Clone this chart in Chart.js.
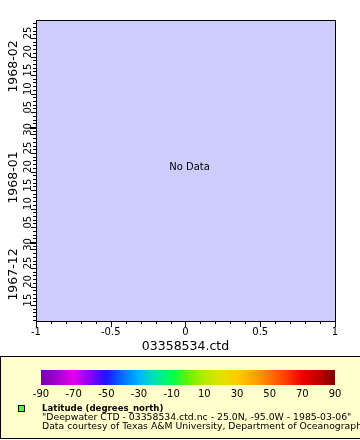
<!DOCTYPE html>
<html>
<head>
<meta charset="utf-8">
<script src="https://cdn.jsdelivr.net/npm/chart.js@4.4.1/dist/chart.umd.min.js"></script>
<style>
  html, body { margin: 0; padding: 0; width: 360px; height: 440px; overflow: hidden; background: #fff; font-family: "DejaVu Sans", sans-serif; }
  #main { position: absolute; left: 0; top: 0; }
  #key { position: absolute; left: 0; top: 356px; width: 400px; height: 81px; background: #ffffcc; border: 1px solid #000; }
  #bar { position: absolute; left: 0; top: 366px; }
  .swatch { position: absolute; left: 18px; top: 405px; width: 5px; height: 5px; background: #44ff44; border: 1px solid #000; }
  .line { position: absolute; left: 42px; white-space: nowrap; font-size: 9.3px; line-height: 10px; color: #000; }
</style>
</head>
<body>
<canvas id="main" width="360" height="356"></canvas>
<div id="key"></div>
<canvas id="bar" width="360" height="38"></canvas>
<div class="swatch"></div>
<div class="line" id="l1" style="top:403px;font-weight:bold;font-size:8.6px"></div>
<div class="line" id="l2" style="top:412px"></div>
<div class="line" id="l3" style="top:421px"></div>
<script>
// --- data ---
const fileName = '03358534.ctd';
const xRange = [-1, 1];
const xTicks = [-1, -0.5, 0, 0.5, 1];
const xMinorStep = 0.1;

// y axis is time, in days counted from 1967-12-01
const months = ['1967-12', '1968-01', '1968-02'];
const monthStart = [0, 31, 62];
const monthDays = [31, 31, 29];
const yRange = [9.7, 90.85];
const dayLabels = [5, 10, 15, 20, 25, 30];

const points = []; // no data in this file

const barTicks = [-90, -70, -50, -30, -10, 10, 30, 50, 70, 90];
const barStops = [-90, -80, -70, -60, -50, -40, -30, -20, -10, 0, 10, 20, 30, 40, 50, 60, 70, 80, 90];
const barColors = ['#7800a8', '#a800d0', '#e400ec', '#8c00f4', '#1e14ff', '#0070ff', '#00b4ff', '#00e4b0', '#00ff50',
                   '#64f400', '#b4ec00', '#e4e000', '#ffcc00', '#ffa800', '#ff7400', '#ff3c00', '#ee0000', '#c00000', '#800000'];

const legendTitle = 'Latitude (degrees_north)';
const legendDesc = '"Deepwater CTD - 03358534.ctd.nc - 25.0N, -95.0W - 1985-03-06"';
const legendCredit = 'Data courtesy of Texas A&M University, Department of Oceanography';

const FONT = '"DejaVu Sans", sans-serif';

// day ticks for the time axis
const dayTicks = [];
for (let d = Math.ceil(yRange[0]); d <= yRange[1]; d++) dayTicks.push(d);

function monthOf(v) {
  let m = 0;
  for (let i = 0; i < monthStart.length; i++) if (v >= monthStart[i]) m = i;
  return m;
}

const frame = {
  id: 'frame',
  beforeDraw(chart) {
    const {ctx, chartArea: a} = chart;
    ctx.save();
    ctx.fillStyle = '#ccccff';
    ctx.fillRect(a.left, a.top, a.right - a.left, a.bottom - a.top);
    ctx.restore();
  },
  afterDraw(chart) {
    const {ctx, chartArea: a, scales: {x, y}} = chart;
    ctx.save();
    ctx.strokeStyle = '#000';
    ctx.lineWidth = 1;
    ctx.strokeRect(a.left + 0.5, a.top + 0.5, a.right - a.left, a.bottom - a.top);

    // x ticks
    ctx.beginPath();
    for (let v = xRange[0]; v <= xRange[1] + 1e-9; v += xMinorStep) {
      const px = Math.round(x.getPixelForValue(v)) + 0.5;
      const major = xTicks.some(t => Math.abs(t - v) < 1e-6);
      ctx.moveTo(px, a.bottom);
      ctx.lineTo(px, a.bottom + (major ? 6 : 3));
    }
    ctx.stroke();

    // y ticks: every day, longer every 5 days, thick at month start
    ctx.beginPath();
    dayTicks.forEach(d => {
      const m = monthOf(d);
      const dom = d - monthStart[m] + 1;
      if (dom === 1) return;
      const py = Math.round(y.getPixelForValue(d)) + 0.5;
      ctx.moveTo(a.left, py);
      ctx.lineTo(a.left - (dom % 5 === 0 ? 5 : 3), py);
    });
    ctx.stroke();
    ctx.lineWidth = 2;
    ctx.beginPath();
    monthStart.forEach(s => {
      if (s < yRange[0] || s > yRange[1]) return;
      const py = Math.round(y.getPixelForValue(s)) + 1;
      ctx.moveTo(a.left, py);
      ctx.lineTo(a.left - 6, py);
    });
    ctx.stroke();

    // y labels (rotated)
    ctx.fillStyle = '#000';
    ctx.textAlign = 'center';
    ctx.textBaseline = 'middle';
    ctx.font = '10px ' + FONT;
    dayTicks.forEach(d => {
      const m = monthOf(d);
      const dom = d - monthStart[m] + 1;
      if (!dayLabels.includes(dom) || dom > monthDays[m]) return;
      const py = y.getPixelForValue(d) - 5;
      ctx.save();
      ctx.translate(28, py);
      ctx.rotate(-Math.PI / 2);
      ctx.fillText(String(dom).padStart(2, '0'), 0, 0);
      ctx.restore();
    });
    ctx.font = '12.5px ' + FONT;
    months.forEach((name, i) => {
      const lo = Math.max(monthStart[i], yRange[0]);
      const hi = Math.min(monthStart[i] + monthDays[i], yRange[1]);
      const py = (y.getPixelForValue(lo) + y.getPixelForValue(hi)) / 2 - 7;
      ctx.save();
      ctx.translate(14, py);
      ctx.rotate(-Math.PI / 2);
      ctx.fillText(name, 0, 0);
      ctx.restore();
    });

    if (!points.length) {
      ctx.font = '10px ' + FONT;
      ctx.fillText('No Data', (a.left + a.right) / 2 + 4, (a.top + a.bottom) / 2 - 3);
    }
    ctx.restore();
  }
};

new Chart(document.getElementById('main'), {
  type: 'scatter',
  data: { datasets: [{ label: legendTitle, data: points, backgroundColor: '#44ff44' }] },
  options: {
    responsive: false,
    animation: false,
    devicePixelRatio: 1,
    layout: { padding: { left: 0, top: 20, right: 25, bottom: 0 } },
    plugins: { legend: { display: false }, tooltip: { enabled: false } },
    scales: {
      x: {
        type: 'linear', min: xRange[0], max: xRange[1],
        afterBuildTicks: s => { s.ticks = xTicks.map(v => ({ value: v })); },
        grid: { display: false, drawTicks: false },
        border: { display: false },
        ticks: { color: '#000', padding: 5, font: { family: FONT, size: 10 }, callback: v => String(v) },
        title: { display: true, text: fileName, color: '#000', font: { family: FONT, size: 12.5 }, padding: { top: 0, bottom: 1.5 } },
        afterFit: s => { s.height = 35; }
      },
      y: {
        type: 'linear', min: yRange[0], max: yRange[1],
        grid: { display: false, drawTicks: false },
        border: { display: false },
        ticks: { display: false },
        afterFit: s => { s.width = 36; }
      }
    }
  },
  plugins: [frame]
});

new Chart(document.getElementById('bar'), {
  type: 'bar',
  data: {
    labels: [legendTitle],
    datasets: [{
      data: [[barStops[0], barStops[barStops.length - 1]]],
      borderWidth: 0,
      barPercentage: 1,
      categoryPercentage: 1,
      backgroundColor: c => {
        const a = c.chart.chartArea;
        if (!a) return barColors[0];
        const g = c.chart.ctx.createLinearGradient(a.left, 0, a.right, 0);
        const span = barStops[barStops.length - 1] - barStops[0];
        barStops.forEach((v, i) => g.addColorStop((v - barStops[0]) / span, barColors[i]));
        return g;
      }
    }]
  },
  options: {
    indexAxis: 'y',
    responsive: false,
    animation: false,
    devicePixelRatio: 1,
    layout: { padding: { left: 41, right: 25, top: 4, bottom: 0 } },
    plugins: { legend: { display: false }, tooltip: { enabled: false } },
    scales: {
      x: {
        type: 'linear', min: -90, max: 90,
        afterBuildTicks: s => { s.ticks = barTicks.map(v => ({ value: v })); },
        grid: { display: false, drawTicks: false },
        border: { display: false },
        ticks: { color: '#000', padding: 3, font: { family: FONT, size: 10 } },
        afterFit: s => { s.height = 19; }
      },
      y: { display: false }
    }
  }
});

document.getElementById('l1').textContent = legendTitle;
document.getElementById('l2').textContent = legendDesc;
document.getElementById('l3').textContent = legendCredit;
</script>
</body>
</html>
